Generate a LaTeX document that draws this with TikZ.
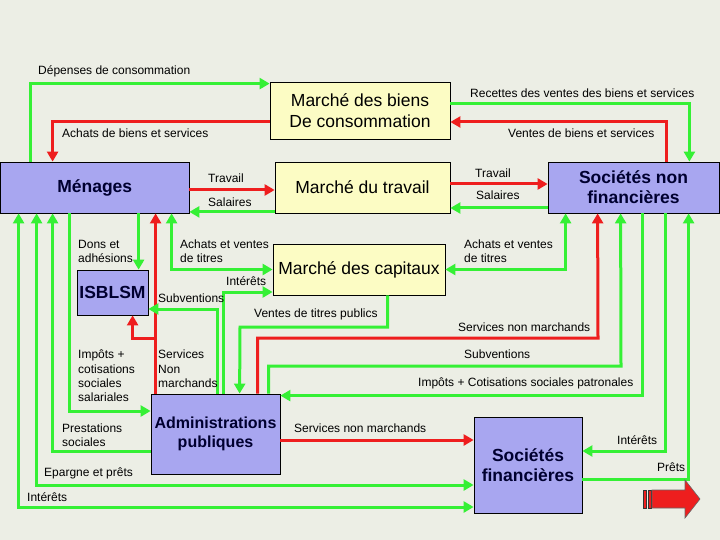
\documentclass[tikz,border=0pt]{standalone}
\usepackage{fontspec}
\setmainfont{Liberation Sans}
\usetikzlibrary{arrows.meta}

\definecolor{fondGris}{HTML}{ECEEE5}
\definecolor{fluxVert}{HTML}{35F035}
\definecolor{fluxRouge}{HTML}{EE1E1E}
\definecolor{agentMauve}{HTML}{A8A6F0}
\definecolor{marcheJaune}{HTML}{FCFCC4}
\definecolor{agentTexte}{HTML}{000030}

\begin{document}
\begin{tikzpicture}
[x=1pt,y=-1pt,>={Triangle[length=10pt,width=11pt]},
  greenArrow/.style={->,draw=fluxVert,line width=3pt},%
  greenBoth/.style={<->,draw=fluxVert,line width=3pt},%
  redArrow/.style={->,draw=fluxRouge,line width=3pt},%
  boxDecorate/.style={draw=black,line width=0.8pt,inner sep=2pt,align=center},%
  agentDecorate/.style={boxDecorate,fill=agentMauve,text=agentTexte,
    font=\bfseries\fontsize{17.5}{20}\selectfont},%
  marketDecorate/.style={boxDecorate,fill=marcheJaune,
    font=\fontsize{17.5}{21}\selectfont},%
  labelDecorate/.style={anchor=west,inner sep=0pt,align=left,
    font=\fontsize{12}{14.3}\selectfont}]
\fill[fondGris] (0,0) rectangle (720,540);
\useasboundingbox (0,0) rectangle (720,540);
%% markets
\foreach \nodename/\x/\y/\w/\h/\txt in {
  biens/360/110.5/180/57/{Marché des biens\\De consommation},
  travail/362.5/187.5/175/51/{Marché du travail},
  capitaux/359/269.5/172/51/{Marché des capitaux}}
{
  \node[marketDecorate,minimum width=\w pt,minimum height=\h pt] (\nodename) at (\x,\y) {\txt};
}
%% sectors
\foreach \nodename/\x/\y/\w/\h/\txt in {
  menages/94.75/187.5/188.5/51/{Ménages},
  snf/633.5/187.5/171/51/{Sociétés non\\financières},
  isblsm/112.5/292.5/71/45/{ISBLSM},
  sf/528/465/108/96/{Sociétés\\financières}}
{
  \node[agentDecorate,minimum width=\w pt,minimum height=\h pt] (\nodename) at (\x,\y) {\txt};
}
\node[agentDecorate,font=\bfseries\fontsize{16}{18.5}\selectfont,
  minimum width=129pt,minimum height=80pt] (apu) at (215.5,434) {Administrations\\publiques};
%% red flows
\draw[redArrow] ([yshift=-11.5pt]biens.west) -| ([xshift=52.5pt]menages.north west);
\draw[redArrow] ([xshift=-53pt]snf.north east) |- ([yshift=-11.5pt]biens.east);
\draw[redArrow] ([yshift=-2.5pt]menages.east) -- ([yshift=-2.5pt]travail.west);
\draw[redArrow] ([yshift=3.5pt]travail.east) -- ([yshift=3.5pt]snf.west);
\draw[redArrow] ([xshift=5pt]apu.north west) -- ([xshift=155.5pt]menages.south west);
\coordinate (servBranch) at (156,338);
\draw[redArrow] (servBranch) -| ([xshift=56pt]isblsm.south west);
\draw[redArrow] ([xshift=107pt]apu.north west) |- (598,338) -- ([xshift=50pt]snf.south west);
\draw[redArrow] ([yshift=-6pt]apu.east) -- ([yshift=25pt]sf.west);
%% green flows
\draw[greenArrow] ([xshift=30.5pt]menages.north west) |- ([yshift=-2pt]biens.north west);
\draw[greenArrow] ([yshift=6.5pt]biens.east) -| ([xshift=-30pt]snf.north east);
\draw[greenArrow] ([yshift=1.5pt]travail.south west) -- ([yshift=1.5pt]menages.south east);
\draw[greenArrow] ([yshift=-20.5pt]snf.west) -- ([yshift=-20.5pt]travail.east);
\draw[greenBoth] ([xshift=18.5pt]menages.south west) |- ([yshift=-42pt]sf.west);
\draw[greenBoth] ([xshift=36.5pt]menages.south west) |- ([yshift=-20pt]sf.west);
\draw[greenArrow] ([yshift=-17pt]apu.west) -| ([xshift=52.5pt]menages.south west);
\draw[greenArrow] ([xshift=69.5pt]menages.south west) |- ([yshift=23pt]apu.west);
\draw[greenArrow] ([xshift=138.5pt]menages.south west) -- ([xshift=62pt]isblsm.north west);
\draw[greenBoth] ([xshift=171.5pt]menages.south west) |- (capitaux.west);
\draw[greenArrow] ([xshift=67pt]apu.north west) |- ([yshift=-16.5pt]isblsm.east);
\draw[greenArrow] ([xshift=73pt]apu.north west) |- ([yshift=-22.5pt]capitaux.west);
\draw[greenArrow] ([xshift=115pt]capitaux.south west) |- (240,327) -- ([xshift=89pt]apu.north west);
\draw[greenArrow] ([xshift=118pt]apu.north west) |- (621,366) -- ([xshift=73pt]snf.south west);
\draw[greenArrow] ([xshift=95pt]snf.south west) |- ([yshift=-2pt]apu.north east);
\draw[greenArrow] ([xshift=118pt]snf.south west) |- ([yshift=14pt]sf.east);
\draw[greenArrow] ([yshift=-14pt]sf.east) -| ([xshift=141pt]snf.south west);
\draw[greenBoth] ([xshift=18pt]snf.south west) |- (capitaux.east);
%% flow labels
\foreach \lname/\x/\y/\txt in {
  lDepenses/38/71/{Dépenses de consommation},
  lAchatsBiens/62/133/{Achats de biens et services},
  lRecettes/470/93/{Recettes des ventes des biens et services},
  lVentesBiens/508/133/{Ventes de biens et services},
  lTravailM/208/178/{Travail},
  lSalairesM/208/202/{Salaires},
  lTravailS/475/173/{Travail},
  lSalairesS/476/195/{Salaires},
  lDons/78/251.5/{Dons et\\adhésions},
  lTitresM/180/251.5/{Achats et ventes\\de titres},
  lTitresS/464/251.5/{Achats et ventes\\de titres},
  lInteretsK/226/281/{Intérêts},
  lSubvIsblsm/158/298/{Subventions},
  lVentesPubl/254/314/{Ventes de titres publics},
  lServSnf/458/327/{Services non marchands},
  lSubvSnf/464/354/{Subventions},
  lCotPatr/418/383/{Impôts + Cotisations sociales patronales},
  lImpots/78/376/{Impôts +\\cotisations\\sociales\\salariales},
  lServMen/158/369/{Services\\Non\\marchands},
  lPrestations/62/435/{Prestations\\sociales},
  lEpargne/44/473/{Epargne et prêts},
  lInteretsMen/27/497/{Intérêts},
  lServSf/294/428/{Services non marchands},
  lInteretsSf/617/440/{Intérêts},
  lPrets/657/467/{Prêts}}
{
  \node[labelDecorate] (\lname) at (\x,\y) {\txt};
}
%% next-slide button
\draw[fill=fluxRouge,draw=black!80,line width=0.6pt] (643,490) rectangle (646.5,508);
\draw[fill=fluxRouge,draw=black!80,line width=0.6pt] (648,490) rectangle (651,508);
\draw[fill=fluxRouge,draw=black!60,line width=0.6pt] (652,490) -- (685,490) -- (685,480)
  -- (700,499) -- (685,518) -- (685,508) -- (652,508) -- cycle;
\end{tikzpicture}
\end{document}
